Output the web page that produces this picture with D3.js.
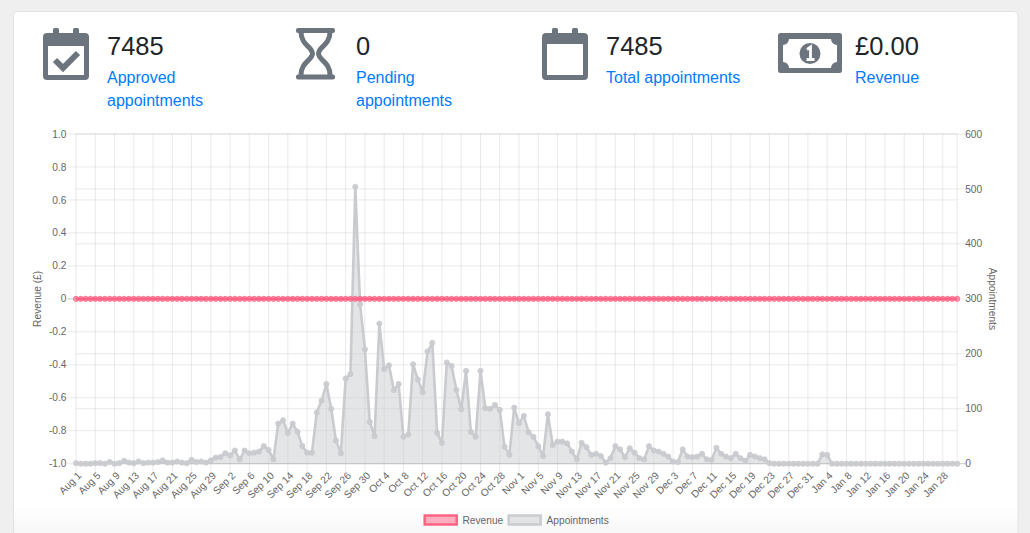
<!DOCTYPE html>
<html><head><meta charset="utf-8">
<script src="https://cdn.jsdelivr.net/npm/d3@7"></script>
<style>html,body{margin:0;padding:0;background:#efefef;overflow:hidden}svg{display:block}</style>
</head><body><svg id="c" width="1030" height="533"></svg>
<script>
// ---------- data ----------
const startDate = new Date(2019, 7, 1);
const endDate = new Date(2020, 1, 1); // exclusive -> Aug 1 .. Jan 31
const categories = d3.timeDay.range(startDate, endDate).map(d3.timeFormat("%b %-d"));

const appointments = [
  1,0,0,0,1,1,0,3,0,1, 5,2,1,4,1,2,2,3,6,2, 2,4,2,1,7,3,4,2,6,11, 12,19,15,24,8,24,
  19,20,22,32,25,8,73,79,56,73, 58,32,20,20,93,115,145,100,42,19,
  155,163,504,290,208,76,50,255,172,179, 134,145,49,53,181,153,130,204,220,56,
  38,184,178,134,99,169,58,49,169,101, 100,107,98,31,16,
  102,74,87,57,49,32,14,90,34,40, 40,37,22,8,38,30,16,18,14,2,
  10,32,26,12,28,20,10,8,32,24, 22,18,13,4,3,26,13,12,13,18,
  8,7,29,18,13,10,18,10,5,16, 13,10,8,1,0,0,
  0,0,0,0,0,0,0,0,17,16, 0,0,0,0,0,0,0,0,0,0, 0,0,0,0,0,0,0,0,0,0, 0,0,0,0,0,0,0
];
const revenue = [
  0,0,0,0,0,0,0,0,0,0,0,0,0,0,0,0,0,0,0,0,0,0,0,0,0,0,0,0,0,0,0,0,0,0,0,0,0,0,0,0,
  0,0,0,0,0,0,0,0,0,0,0,0,0,0,0,0,0,0,0,0,0,0,0,0,0,0,0,0,0,0,0,0,0,0,0,0,0,0,0,0,
  0,0,0,0,0,0,0,0,0,0,0,0,0,0,0,0,0,0,0,0,0,0,0,0,0,0,0,0,0,0,0,0,0,0,0,0,0,0,0,0,
  0,0,0,0,0,0,0,0,0,0,0,0,0,0,0,0,0,0,0,0,0,0,0,0,0,0,0,0,0,0,0,0,0,0,0,0,0,0,0,0,
  0,0,0,0,0,0,0,0,0,0,0,0,0,0,0,0,0,0,0,0,0,0,0,0
];
const leftTicks = [1.0, 0.8, 0.6, 0.4, 0.2, 0, -0.2, -0.4, -0.6, -0.8, -1.0];
const rightTicks = [0, 100, 200, 300, 400, 500, 600];
const xTickEvery = 4;

const statValues = ["7485", "0", "7485", "£0.00"];
const statLabels = [["Approved", "appointments"], ["Pending", "appointments"], ["Total appointments"], ["Revenue"]];
const statIcons = ["calendarCheck", "hourglass", "calendar", "money"];

const seriesNames = ["Revenue", "Appointments"];
const axisTitles = ["Revenue (£)", "Appointments"];

// ---------- layout ----------
const svg = d3.select("#c");
const FONT = "'Liberation Sans', Arial, Helvetica, sans-serif";
const plot = {left: 76, right: 957.2, top: 134, bottom: 463.7};
const pink = "rgb(255,99,132)", gray = "rgb(201,203,207)", icon = "#6c757d";

// card
const defs = svg.append("defs");
const grad = defs.append("linearGradient").attr("id", "fade").attr("x1", 0).attr("x2", 0).attr("y1", 0).attr("y2", 1);
grad.append("stop").attr("offset", "0%").attr("stop-color", "#000").attr("stop-opacity", 0);
grad.append("stop").attr("offset", "100%").attr("stop-color", "#000").attr("stop-opacity", 0.035);
svg.append("rect").attr("x", 13.5).attr("y", 11.5).attr("width", 1004.5).attr("height", 560).attr("rx", 4)
  .attr("fill", "#fff").attr("stroke", "#e2e2e2");
svg.append("rect").attr("x", 14).attr("y", 506).attr("width", 1003.5).attr("height", 27).attr("fill", "url(#fade)");

// ---------- stats row ----------
const colX = [43, 296, 542, 778];
const textX = [107, 356, 606, 855];
function drawIcon(g, type, x) {
  if (type === "calendarCheck" || type === "calendar") {
    const top = type === "calendar" ? 44 : 46;
    g.append("rect").attr("x", x).attr("y", 33).attr("width", 46).attr("height", 47).attr("rx", 4).attr("fill", icon);
    g.append("rect").attr("x", x + 10).attr("y", 28).attr("width", 6).attr("height", 9).attr("rx", 1.5).attr("fill", icon);
    g.append("rect").attr("x", x + 30).attr("y", 28).attr("width", 6).attr("height", 9).attr("rx", 1.5).attr("fill", icon);
    g.append("rect").attr("x", x + 5).attr("y", top).attr("width", 36).attr("height", 75 - top).attr("fill", "#fff");
    if (type === "calendarCheck") {
      g.append("path").attr("d", `M${x + 12},${60} L${x + 20},${68} L${x + 35},${53}`)
        .attr("fill", "none").attr("stroke", icon).attr("stroke-width", 6).attr("stroke-linejoin", "miter");
    }
  } else if (type === "hourglass") {
    g.append("rect").attr("x", x).attr("y", 28).attr("width", 39).attr("height", 5).attr("rx", 2).attr("fill", icon);
    g.append("rect").attr("x", x).attr("y", 74.5).attr("width", 39).attr("height", 5).attr("rx", 2).attr("fill", icon);
    const cx = x + 19.5;
    g.append("path")
      .attr("d", `M${x + 5},32 C${x + 5},45 ${cx - 3},47 ${cx - 3},53.5 C${cx - 3},60 ${x + 5},62 ${x + 5},75
                  M${x + 34},32 C${x + 34},45 ${cx + 3},47 ${cx + 3},53.5 C${cx + 3},60 ${x + 34},62 ${x + 34},75`)
      .attr("fill", "none").attr("stroke", icon).attr("stroke-width", 5);
  } else if (type === "money") {
    g.append("rect").attr("x", x).attr("y", 33).attr("width", 64).attr("height", 40).attr("rx", 2.5).attr("fill", icon);
    const l = x + 5, r = x + 59, t = 39, b = 68, n = 6;
    g.append("path").attr("d",
      `M${l + n},${t} L${r - n},${t} A${n},${n} 0 0 0 ${r},${t + n} L${r},${b - n} A${n},${n} 0 0 0 ${r - n},${b}
       L${l + n},${b} A${n},${n} 0 0 0 ${l},${b - n} L${l},${t + n} A${n},${n} 0 0 0 ${l + n},${t} Z`)
      .attr("fill", "#fff");
    g.append("circle").attr("cx", x + 32).attr("cy", 53.5).attr("r", 10.5).attr("fill", icon);
    g.append("path").attr("d", `M${x + 29},49.5 L${x + 32.5},47 L${x + 32.5},59.5 M${x + 28.5},59.5 L${x + 36.5},59.5`)
      .attr("fill", "none").attr("stroke", "#fff").attr("stroke-width", 2.8);
  }
}
statValues.forEach((v, k) => {
  const g = svg.append("g");
  drawIcon(g, statIcons[k], colX[k]);
  g.append("text").attr("x", textX[k]).attr("y", 55).text(v)
    .attr("font-family", FONT).attr("font-size", 25.5).attr("fill", "#212529");
  statLabels[k].forEach((line, j) => {
    g.append("text").attr("x", textX[k]).attr("y", 82.7 + j * 23.7).text(line)
      .attr("font-family", FONT).attr("font-size", 16).attr("fill", "#007bff");
  });
});

// ---------- chart ----------
const idx = d3.range(categories.length);
const x = d3.scalePoint().domain(idx).range([plot.left, plot.right]);
const yL = d3.scaleLinear().domain([-1, 1]).range([plot.bottom, plot.top]);
const yR = d3.scaleLinear().domain([0, 600]).range([plot.bottom, plot.top]);
const gridC = "rgba(0,0,0,0.1)";
const tickC = "#666";

const grid = svg.append("g");
const xTicks = idx.filter(i => i % xTickEvery === 0);
// vertical grid
grid.selectAll(".vg").data(xTicks).enter().append("line")
  .attr("x1", i => x(i)).attr("x2", i => x(i)).attr("y1", plot.top).attr("y2", plot.bottom + 8.5)
  .attr("stroke", gridC).attr("stroke-width", 0.85);
grid.append("line").attr("x1", plot.right).attr("x2", plot.right).attr("y1", plot.top).attr("y2", plot.bottom)
  .attr("stroke", gridC).attr("stroke-width", 0.85);
// left horizontal grid
grid.selectAll(".lg").data(leftTicks).enter().append("line")
  .attr("x1", plot.left - 8.5).attr("x2", plot.right).attr("y1", d => yL(d)).attr("y2", d => yL(d))
  .attr("stroke", d => d === 0 ? "rgba(0,0,0,0.25)" : gridC).attr("stroke-width", 0.85);
// right horizontal grid
grid.selectAll(".rg").data(rightTicks).enter().append("line")
  .attr("x1", plot.left).attr("x2", plot.right + 8.5).attr("y1", d => yR(d)).attr("y2", d => yR(d))
  .attr("stroke", d => d === 0 ? "rgba(0,0,0,0.25)" : gridC).attr("stroke-width", 0.85);

// tick labels
const tl = svg.append("g").attr("font-family", FONT).attr("font-size", 10.2).attr("fill", tickC);
tl.selectAll(".lt").data(leftTicks).enter().append("text")
  .attr("x", plot.left - 9.5).attr("y", d => yL(d)).attr("dy", "0.35em").attr("text-anchor", "end")
  .text(d => d === 0 ? "0" : d.toFixed(1));
tl.selectAll(".rt").data(rightTicks).enter().append("text")
  .attr("x", plot.right + 8).attr("y", d => yR(d)).attr("dy", "0.35em").attr("text-anchor", "start")
  .text(d => d);
tl.selectAll(".xt").data(xTicks).enter().append("text")
  .attr("transform", i => `translate(${x(i) + 3.5},${plot.bottom + 10}) rotate(-45)`)
  .attr("dy", "0.35em").attr("text-anchor", "end").text(i => categories[i]);

// axis titles
tl.append("text").attr("transform", `translate(41,${(plot.top + plot.bottom) / 2}) rotate(-90)`)
  .attr("text-anchor", "middle").text(axisTitles[0]);
tl.append("text").attr("transform", `translate(989,${(plot.top + plot.bottom) / 2}) rotate(90)`)
  .attr("text-anchor", "middle").text(axisTitles[1]);

// appointments (drawn first, below)
const area = d3.area().x((d, i) => x(i)).y0(yR(0)).y1(d => yR(d));
const line = d3.line().x((d, i) => x(i)).y(d => yR(d));
svg.append("path").datum(appointments).attr("d", area).attr("fill", "rgba(201,203,207,0.5)");
svg.append("path").datum(appointments).attr("d", line).attr("fill", "none")
  .attr("stroke", gray).attr("stroke-width", 2.6).attr("stroke-linejoin", "round");
svg.append("g").selectAll("circle").data(appointments).enter().append("circle")
  .attr("cx", (d, i) => x(i)).attr("cy", d => yR(d)).attr("r", 2.6)
  .attr("fill", "rgba(201,203,207,0.9)").attr("stroke", gray).attr("stroke-width", 0.85);

// revenue (on top)
const lineL = d3.line().x((d, i) => x(i)).y(d => yL(d));
svg.append("path").datum(revenue).attr("d", lineL).attr("fill", "none")
  .attr("stroke", pink).attr("stroke-width", 2.6);
svg.append("g").selectAll("circle").data(revenue).enter().append("circle")
  .attr("cx", (d, i) => x(i)).attr("cy", d => yL(d)).attr("r", 2.6)
  .attr("fill", "rgba(255,99,132,0.6)").attr("stroke", pink).attr("stroke-width", 0.85);

// legend
const lg = svg.append("g").attr("font-family", FONT).attr("font-size", 10.2).attr("fill", tickC);
const legX = [423.5, 507.5];
const legFill = ["rgba(255,99,132,0.5)", "rgba(201,203,207,0.5)"];
const legStroke = [pink, gray];
seriesNames.forEach((s, k) => {
  lg.append("rect").attr("x", legX[k] + 1.2).attr("y", 515.5).attr("width", 32).attr("height", 9)
    .attr("fill", legFill[k]).attr("stroke", legStroke[k]).attr("stroke-width", 2.5);
  lg.append("text").attr("x", legX[k] + 39).attr("y", 520).attr("dy", "0.35em").text(s);
});
</script></body></html>
